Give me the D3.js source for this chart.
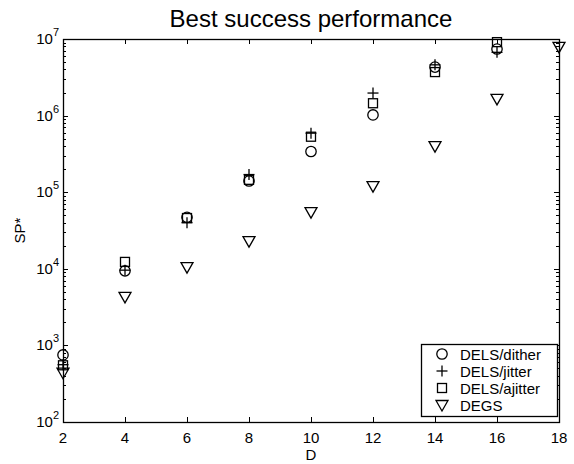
<!DOCTYPE html>
<html>
<head>
<meta charset="utf-8">
<script src="https://cdn.jsdelivr.net/npm/d3@7/dist/d3.min.js"></script>
<style>
  html, body { margin: 0; padding: 0; background: #fff; }
  svg { display: block; font-family: "Liberation Sans", Arial, Helvetica, sans-serif; }
</style>
</head>
<body>
<svg id="chart" width="574" height="464"></svg>
<script>
// Problem dimension D
const dims = [2, 4, 6, 8, 10, 12, 14, 16, 18];

// Best success performance SP* per method (null = no result)
const dither  = [750, 9400, 47000, 140000, 340000, 1020000, 4300000, 7400000, null];
const jitter  = [560, 9600, 40000, 170000, 590000, 1970000, 4600000, 6700000, null];
const ajitter = [550, 12300, 46000, 145000, 530000, 1450000, 3700000, 9100000, null];
const degs    = [440, 4300, 10500, 23000, 55000, 120000, 400000, 1650000, 7900000];

const seriesNames = ["DELS/dither", "DELS/jitter", "DELS/ajitter", "DEGS"];
const seriesValues = [dither, jitter, ajitter, degs];
const seriesMarkers = ["circle", "plus", "square", "triangle"];

const xTicks = [2, 4, 6, 8, 10, 12, 14, 16, 18];
const yTicks = [1e2, 1e3, 1e4, 1e5, 1e6, 1e7];

const svg = d3.select("#chart");
const m = { left: 63, right: 559, top: 39, bottom: 422 };

const x = d3.scaleLinear().domain([2, 18]).range([m.left, m.right]);
const y = d3.scaleLog().domain([1e2, 1e7]).range([m.bottom, m.top]);

// minor ticks on the log axis
const minor = [];
for (let e = 2; e < 7; e++) for (let k = 2; k <= 9; k++) minor.push(k * Math.pow(10, e));

const tickLen = 5;
const ax = svg.append("g").attr("stroke", "#000").attr("stroke-width", 1).attr("fill", "none");

// x ticks (bottom and top, pointing inward)
xTicks.forEach(v => {
  const px = Math.round(x(v)) + 0.5;
  ax.append("line").attr("x1", px).attr("x2", px).attr("y1", m.bottom).attr("y2", m.bottom - tickLen);
  ax.append("line").attr("x1", px).attr("x2", px).attr("y1", m.top).attr("y2", m.top + tickLen);
});
// y major ticks
yTicks.forEach(v => {
  const py = Math.round(y(v)) + 0.5;
  ax.append("line").attr("x1", m.left).attr("x2", m.left + tickLen).attr("y1", py).attr("y2", py);
  ax.append("line").attr("x1", m.right).attr("x2", m.right - tickLen).attr("y1", py).attr("y2", py);
});
// y minor ticks
minor.forEach(v => {
  const py = Math.round(y(v)) + 0.5;
  ax.append("line").attr("x1", m.left).attr("x2", m.left + 3).attr("y1", py).attr("y2", py);
  ax.append("line").attr("x1", m.right).attr("x2", m.right - 3).attr("y1", py).attr("y2", py);
});

// axes box
ax.append("rect")
  .attr("x", m.left + 0.5).attr("y", m.top + 0.5)
  .attr("width", m.right - m.left).attr("height", m.bottom - m.top)
  .attr("stroke-width", 1.3);

// x tick labels
svg.append("g").selectAll("text").data(xTicks).join("text")
  .attr("x", d => x(d)).attr("y", m.bottom + 21)
  .attr("text-anchor", "middle").attr("font-size", 15).text(d => d);

// y tick labels: 10 with superscript exponent
const yl = svg.append("g").selectAll("text").data(yTicks).join("text")
  .attr("x", m.left - 4).attr("y", d => y(d) + 5)
  .attr("text-anchor", "end").attr("font-size", 15);
yl.append("tspan").text("10");
yl.append("tspan").attr("dy", -8).attr("font-size", 11).text(d => Math.round(Math.log10(d)));

// titles
svg.append("text").attr("x", (m.left + m.right) / 2).attr("y", 27)
  .attr("text-anchor", "middle").attr("font-size", 24).text("Best success performance");
svg.append("text").attr("x", (m.left + m.right) / 2).attr("y", 460)
  .attr("text-anchor", "middle").attr("font-size", 15).text("D");
svg.append("text")
  .attr("transform", `translate(${25},${(m.top + m.bottom) / 2}) rotate(-90)`)
  .attr("text-anchor", "middle").attr("font-size", 15).text("SP*");

// marker drawing
function drawMarker(g, type, cx, cy) {
  const s = g.append("g").attr("stroke", "#000").attr("stroke-width", 1.3).attr("fill", "none");
  if (type === "circle") {
    s.append("circle").attr("cx", cx).attr("cy", cy).attr("r", 5.2);
  } else if (type === "plus") {
    s.append("line").attr("x1", cx - 5.5).attr("x2", cx + 5.5).attr("y1", cy).attr("y2", cy);
    s.append("line").attr("x1", cx).attr("x2", cx).attr("y1", cy - 5.5).attr("y2", cy + 5.5);
  } else if (type === "square") {
    s.append("rect").attr("x", cx - 4.5).attr("y", cy - 4.5).attr("width", 9).attr("height", 9);
  } else if (type === "triangle") {
    s.append("path").attr("d", `M${cx - 6},${cy - 4.5}L${cx + 6},${cy - 4.5}L${cx},${cy + 6}Z`);
  }
}

const pts = svg.append("g");
seriesValues.forEach((vals, i) => {
  vals.forEach((v, j) => {
    if (v == null) return;
    drawMarker(pts, seriesMarkers[i], x(dims[j]), y(v));
  });
});

// legend
const lg = svg.append("g");
const lx = 421, ly = 344, lw = 136, lh = 72;
lg.append("rect").attr("x", lx + 0.5).attr("y", ly + 0.5).attr("width", lw).attr("height", lh)
  .attr("fill", "#fff").attr("stroke", "#000").attr("stroke-width", 1.3);
seriesNames.forEach((name, i) => {
  const cy = ly + 10 + i * 17;
  drawMarker(lg, seriesMarkers[i], lx + 21, cy);
  lg.append("text").attr("x", lx + 39).attr("y", cy + 5.5)
    .attr("font-size", 15).text(name);
});
</script>
</body>
</html>
